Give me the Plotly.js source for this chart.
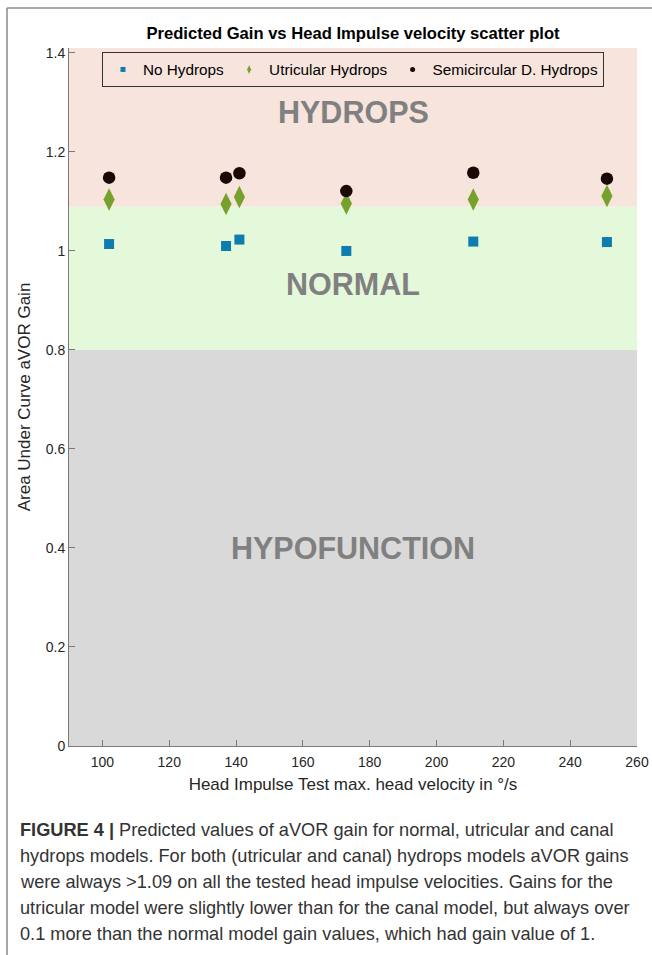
<!DOCTYPE html>
<html>
<head>
<meta charset="utf-8">
<script src="https://cdn.plot.ly/plotly-3.0.1.min.js"></script>
<style>
html,body{margin:0;padding:0;background:#fff;}
#chart{width:652px;height:955px;}
</style>
</head>
<body>
<div id="chart"></div>
<script>
// Data
const velocities = [102, 137, 141, 173, 211, 251];
const noHydrops = [1.014, 1.010, 1.023, 1.000, 1.019, 1.018];
const utricularHydrops = [1.104, 1.095, 1.109, 1.096, 1.104, 1.111];
const semicircularHydrops = [1.148, 1.148, 1.157, 1.121, 1.158, 1.146];
const seriesNames = ['No Hydrops', 'Utricular Hydrops', 'Semicircular D. Hydrops'];
const xTicks = [100, 120, 140, 160, 180, 200, 220, 240, 260];
const yTicks = [0, 0.2, 0.4, 0.6, 0.8, 1, 1.2, 1.4];
const yTickText = ['0', '0.2', '0.4', '0.6', '0.8', '1', '1.2', '1.4'];
const zoneBounds = [0, 0.8, 1.09, 1.41];
const zoneLabels = ['HYPOFUNCTION', 'NORMAL', 'HYDROPS'];
const zoneLabelY = [0.40, 0.933, 1.28];
const captionLines = [
  '<b>FIGURE 4 |</b> Predicted values of aVOR gain for normal, utricular and canal',
  'hydrops models. For both (utricular and canal) hydrops models aVOR gains',
  'were always >1.09 on all the tested head impulse velocities. Gains for the',
  'utricular model were slightly lower than for the canal model, but always over',
  '0.1 more than the normal model gain values, which had gain value of 1.'
];

const W = 652, H = 955;
const M = {l: 69, r: 15, t: 48, b: 209};
const pw = W - M.l - M.r, ph = H - M.t - M.b;
const px2x = p => (p - M.l) / pw;
const py2y = p => (H - M.b - p) / ph;

const FONT = 'Liberation Sans, Arial, Helvetica, sans-serif';
const colors = ['#0f7cb0', '#76a22c', '#1a0804'];
const symbols = ['square', 'diamond-tall', 'circle'];
const sizes = [10, 16, 12.5];
const legendSizes = [5, 6, 5];
const seriesValues = [noHydrops, utricularHydrops, semicircularHydrops];

const traces = [];
for (let i = 0; i < 3; i++) {
  traces.push({x: velocities, y: seriesValues[i], name: seriesNames[i], type: 'scatter', mode: 'markers',
    marker: {symbol: symbols[i], size: sizes[i], color: colors[i]}, showlegend: false});
}
// legend entries (small markers as in the reference legend)
for (let i = 0; i < 3; i++) {
  traces.push({x: [null], y: [null], name: seriesNames[i], type: 'scatter', mode: 'markers',
    marker: {symbol: symbols[i], size: legendSizes[i], color: colors[i]}, showlegend: true});
}

const zoneColors = ['#d9d9d9', '#e4f8da', '#f7e4dc'];
const shapes = [];
for (let i = 0; i < 3; i++) {
  shapes.push({type: 'rect', xref: 'paper', yref: 'y', x0: 0, x1: 1,
    y0: zoneBounds[i], y1: zoneBounds[i + 1], fillcolor: zoneColors[i],
    line: {width: 0}, layer: 'below'});
}
// figure frame
shapes.push({type: 'line', xref: 'paper', yref: 'paper', x0: px2x(7), x1: px2x(7),
  y0: py2y(8), y1: py2y(960), line: {color: '#8a8a8a', width: 1.5}});
shapes.push({type: 'line', xref: 'paper', yref: 'paper', x0: px2x(7), x1: px2x(660),
  y0: py2y(8), y1: py2y(8), line: {color: '#8a8a8a', width: 1.5}});

const annotations = [];
for (let i = 0; i < 3; i++) {
  annotations.push({x: 175, y: zoneLabelY[i], xref: 'x', yref: 'y', text: '<b>' + zoneLabels[i] + '</b>',
    showarrow: false, font: {family: FONT, size: 30.5, color: '#808080'}});
}
const capY = [830, 856, 882, 908, 934];
captionLines.forEach((t, i) => {
  annotations.push({x: px2x(18), y: py2y(capY[i]), xref: 'paper', yref: 'paper', text: t,
    showarrow: false, xanchor: 'left', yanchor: 'middle', align: 'left',
    font: {family: FONT, size: 18.2, color: '#333333'}});
});

const layout = {
  width: W, height: H,
  margin: M,
  paper_bgcolor: '#ffffff', plot_bgcolor: 'rgba(0,0,0,0)',
  font: {family: FONT, color: '#262626'},
  title: {text: '<b>Predicted Gain vs Head Impulse velocity scatter plot</b>',
    x: (M.l + px2x(353) * pw) / W, xanchor: 'center', y: 1 - 33 / H, yanchor: 'middle',
    font: {family: FONT, size: 16.6, color: '#000000'}},
  xaxis: {range: [90, 260], tickvals: xTicks, ticks: 'inside', ticklen: 6, tickcolor: '#7a7a7a',
    showline: true, linecolor: '#7a7a7a', linewidth: 1, showgrid: false, zeroline: false,
    ticklabelstandoff: 3,
    tickfont: {family: FONT, size: 14, color: '#262626'},
    title: {text: 'Head Impulse Test max. head velocity in °/s', standoff: 9,
      font: {family: FONT, size: 17, color: '#262626'}}},
  yaxis: {range: [0, 1.41], tickvals: yTicks, ticktext: yTickText,
    ticks: 'inside', ticklen: 6, tickcolor: '#7a7a7a',
    showline: true, linecolor: '#7a7a7a', linewidth: 1, showgrid: false, zeroline: false,
    tickfont: {family: FONT, size: 14, color: '#262626'},
    title: {text: 'Area Under Curve aVOR Gain', standoff: 10,
      font: {family: FONT, size: 17, color: '#262626'}}},
  legend: {orientation: 'h', x: px2x(102), xanchor: 'left', y: py2y(52), yanchor: 'top',
    bgcolor: 'rgba(0,0,0,0)', bordercolor: '#333333', borderwidth: 1,
    font: {family: FONT, size: 15.3, color: '#000000'}, itemsizing: 'trace',
    traceorder: 'normal'},
  shapes: shapes,
  annotations: annotations,
  showlegend: true
};

Plotly.newPlot('chart', traces, layout, {displayModeBar: false, staticPlot: true});
</script>
</body>
</html>
